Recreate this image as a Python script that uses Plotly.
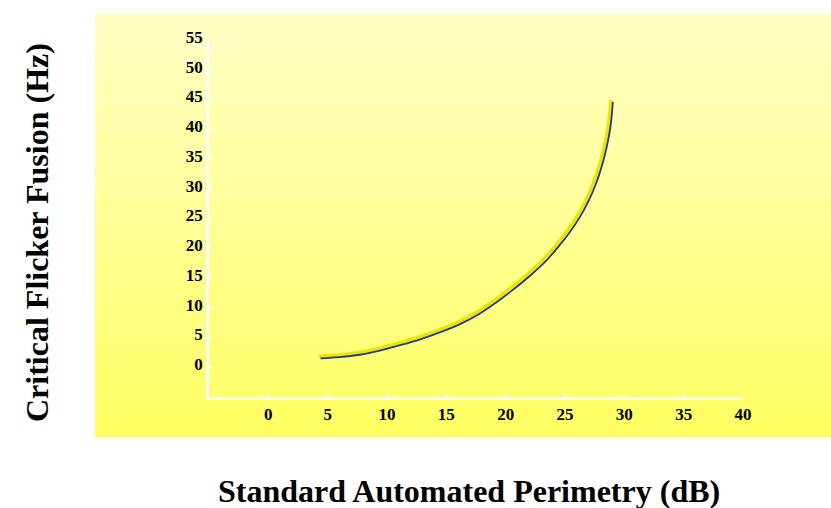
import plotly.graph_objects as go

# Standard Automated Perimetry (dB) vs Critical Flicker Fusion (Hz)
sap_db = [4.4, 6.0, 7.7, 9.4, 11.1, 12.8, 14.5, 16.2, 17.8, 19.2, 20.6, 22.0,
          23.5, 24.5, 25.4, 26.3, 27.0, 27.6, 28.1, 28.5, 28.8, 28.95, 29.03]
cff_hz = [1.5, 1.7, 2.1, 2.8, 3.7, 4.7, 5.9, 7.3, 9.0, 10.9, 13.0, 15.3,
          18.1, 20.4, 22.7, 25.4, 28.0, 30.8, 33.8, 36.9, 40.0, 42.5, 44.6]

x_ticks = [0, 5, 10, 15, 20, 25, 30, 35, 40]
y_ticks = [0, 5, 10, 15, 20, 25, 30, 35, 40, 45, 50, 55]

W, H = 831, 508
ML, MT, PW, PH = 207, 38, 536, 359     # plot area in px
dx = 2 / PW
dy = 2 / PH

font_fam = "Liberation Serif, Times New Roman, serif"
tick_font = dict(family=font_fam, size=17, color="black", weight="bold")

fig = go.Figure()

# yellow highlight stroke on its own subplot, shifted up-left by 2 px
fig.add_trace(go.Scatter(
    x=sap_db, y=cff_hz, mode="lines",
    line=dict(color="#EEE400", width=3.5, shape="spline", smoothing=1.0),
    hoverinfo="skip", showlegend=False))
# navy stroke on the visible axes
fig.add_trace(go.Scatter(
    x=sap_db, y=cff_hz, mode="lines", xaxis="x2", yaxis="y2",
    line=dict(color="#233A8C", width=1.8, shape="spline", smoothing=1.0),
    showlegend=False))

# vertical yellow gradient panel behind the chart
def px_to_paper_x(px):
    return (px - ML) / PW

def px_to_paper_y(py):
    return (MT + PH - py) / PH

top_px, bot_px, left_px, right_px = 14, 437, 95, 831
top_rgb = (255, 255, 198)
bot_rgb = (255, 255, 98)
n_bands = 140
shapes = []
for i in range(n_bands):
    t = i / (n_bands - 1)
    y0 = top_px + (bot_px - top_px) * i / n_bands
    y1 = top_px + (bot_px - top_px) * (i + 1) / n_bands + 0.6
    c = tuple(round(a + (b - a) * t) for a, b in zip(top_rgb, bot_rgb))
    shapes.append(dict(
        type="rect", xref="paper", yref="paper", layer="below",
        x0=px_to_paper_x(left_px), x1=px_to_paper_x(right_px),
        y0=px_to_paper_y(min(y1, bot_px)), y1=px_to_paper_y(y0),
        fillcolor="rgb(%d,%d,%d)" % c, line=dict(width=0)))

axis_common = dict(showgrid=False, zeroline=False, showline=True,
                   linecolor="white", linewidth=2.5,
                   ticks="inside", ticklen=3, tickwidth=1.5, tickcolor="white",
                   tickfont=tick_font)

hidden = dict(showgrid=False, zeroline=False, showline=False,
              showticklabels=False, ticks="")

fig.update_layout(
    width=W, height=H,
    margin=dict(l=ML, r=W - ML - PW, t=MT, b=H - MT - PH),
    paper_bgcolor="white", plot_bgcolor="rgba(0,0,0,0)",
    shapes=shapes,
    xaxis=dict(range=[-5, 40], domain=[0, 1 - dx], anchor="y", **hidden),
    yaxis=dict(range=[-5, 55], domain=[dy, 1], anchor="x", **hidden),
    xaxis2=dict(range=[-5, 40], domain=[dx, 1], anchor="y2",
                tickvals=x_ticks, ticktext=[str(v) for v in x_ticks],
                ticklabelstandoff=0, **axis_common),
    yaxis2=dict(range=[-5, 55], domain=[0, 1 - dy], anchor="x2",
                tickvals=y_ticks, ticktext=[str(v) for v in y_ticks],
                ticklabelstandoff=0, ticklabelshift=-3, **axis_common),
    annotations=[
        dict(text="<b>Standard Automated Perimetry (dB)</b>",
             xref="paper", yref="paper",
             x=px_to_paper_x(469), y=px_to_paper_y(491),
             xanchor="center", yanchor="middle", showarrow=False,
             font=dict(family=font_fam, size=32, color="black")),
        dict(text="<b>Critical Flicker Fusion (Hz)</b>",
             xref="paper", yref="paper",
             x=px_to_paper_x(37), y=px_to_paper_y(232),
             xanchor="center", yanchor="middle", showarrow=False,
             textangle=-90,
             font=dict(family=font_fam, size=32, color="black")),
    ],
)

fig.write_html("out.html")
